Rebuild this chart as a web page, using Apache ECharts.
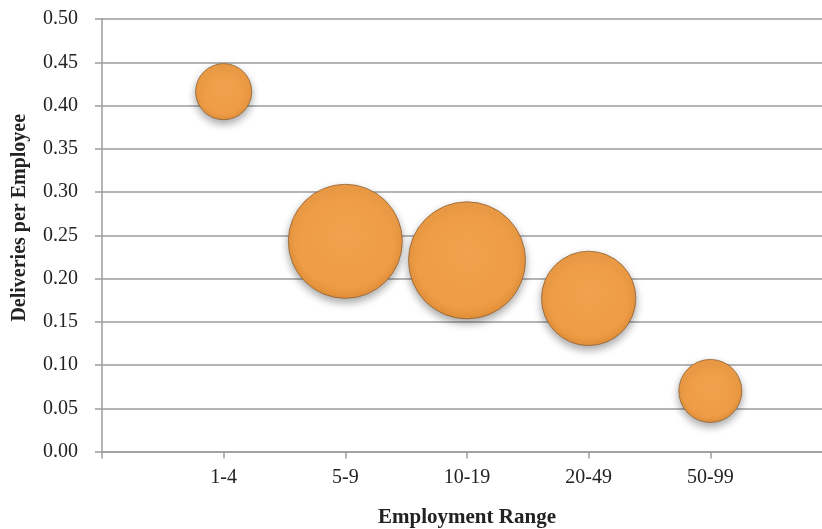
<!DOCTYPE html>
<html>
<head>
<meta charset="utf-8">
<script src="https://cdn.jsdelivr.net/npm/echarts@6/dist/echarts.min.js"></script>
<style>
  html, body { margin: 0; padding: 0; background: #fff; }
  #chart { width: 822px; height: 529px; }
</style>
</head>
<body>
<div id="chart"></div>
<script>
// Data
const ranges = ['1-4', '5-9', '10-19', '20-49', '50-99']
const deliveriesPerEmployee = [0.416, 0.243, 0.221, 0.177, 0.070]
const bubbleSizes = [23, 95, 100, 65, 29]   // relative bubble areas
const yTicks = [0, 0.05, 0.1, 0.15, 0.2, 0.25, 0.3, 0.35, 0.4, 0.45, 0.5]

const maxSize = Math.max(...bubbleSizes)
const maxDiameter = 117
const fontFamily = '"Liberation Serif", "Times New Roman", serif'
const gridColor = '#9c9c9c'

const chart = echarts.init(document.getElementById('chart'))

const points = ranges.map((r, i) => [i + 1, deliveriesPerEmployee[i], bubbleSizes[i]])

const option = {
  animation: false,
  grid: { left: 102, top: 19, width: 730, height: 432.5, outerBoundsMode: 'none', containLabel: false },
  xAxis: {
    type: 'value',
    min: 0,
    max: 6,
    interval: 1,
    name: 'Employment Range',
    nameLocation: 'middle',
    nameGap: 56,
    nameTextStyle: { fontFamily, fontWeight: 'bold', fontSize: 21, color: '#222' },
    axisLine: { show: true, lineStyle: { color: gridColor, width: 1.5 } },
    axisTick: { show: true, length: 7, lineStyle: { color: gridColor, width: 1.5 } },
    splitLine: { show: false },
    axisLabel: {
      margin: 16,
      fontFamily,
      fontSize: 20,
      color: '#222',
      formatter: v => ranges[v - 1] || ''
    }
  },
  yAxis: {
    type: 'value',
    min: 0,
    max: 0.5,
    interval: 0.05,
    name: 'Deliveries per Employee',
    nameLocation: 'middle',
    nameGap: 72,
    nameRotate: 90,
    nameTextStyle: { fontFamily, fontWeight: 'bold', fontSize: 20, color: '#222', padding: [0, 0, 0, 35] },
    axisLine: { show: true, lineStyle: { color: gridColor, width: 1.5 } },
    axisTick: { show: true, length: 7, lineStyle: { color: gridColor, width: 1.5 } },
    splitLine: { show: true, lineStyle: { color: gridColor, width: 1.5 } },
    axisLabel: {
      margin: 24,
      fontFamily,
      fontSize: 20,
      color: '#222',
      formatter: v => {
        const t = yTicks.find(x => Math.abs(x - v) < 1e-9)
        return (t !== undefined ? t : v).toFixed(2)
      }
    }
  },
  series: [{
    type: 'scatter',
    data: points,
    symbolSize: d => maxDiameter * Math.sqrt(d[2] / maxSize),
    itemStyle: {
      color: {
        type: 'radial', x: 0.5, y: 0.45, r: 0.6,
        colorStops: [
          { offset: 0, color: '#f1a24c' },
          { offset: 0.75, color: '#ee9c45' },
          { offset: 0.9, color: '#e4913a' },
          { offset: 1, color: '#a86d30' }
        ]
      },
      borderColor: '#8f6236',
      borderWidth: 0.8,
      shadowBlur: 8,
      shadowOffsetY: 4,
      shadowColor: 'rgba(0,0,0,0.35)',
      opacity: 1
    }
  }]
}

chart.setOption(option)
</script>
</body>
</html>
